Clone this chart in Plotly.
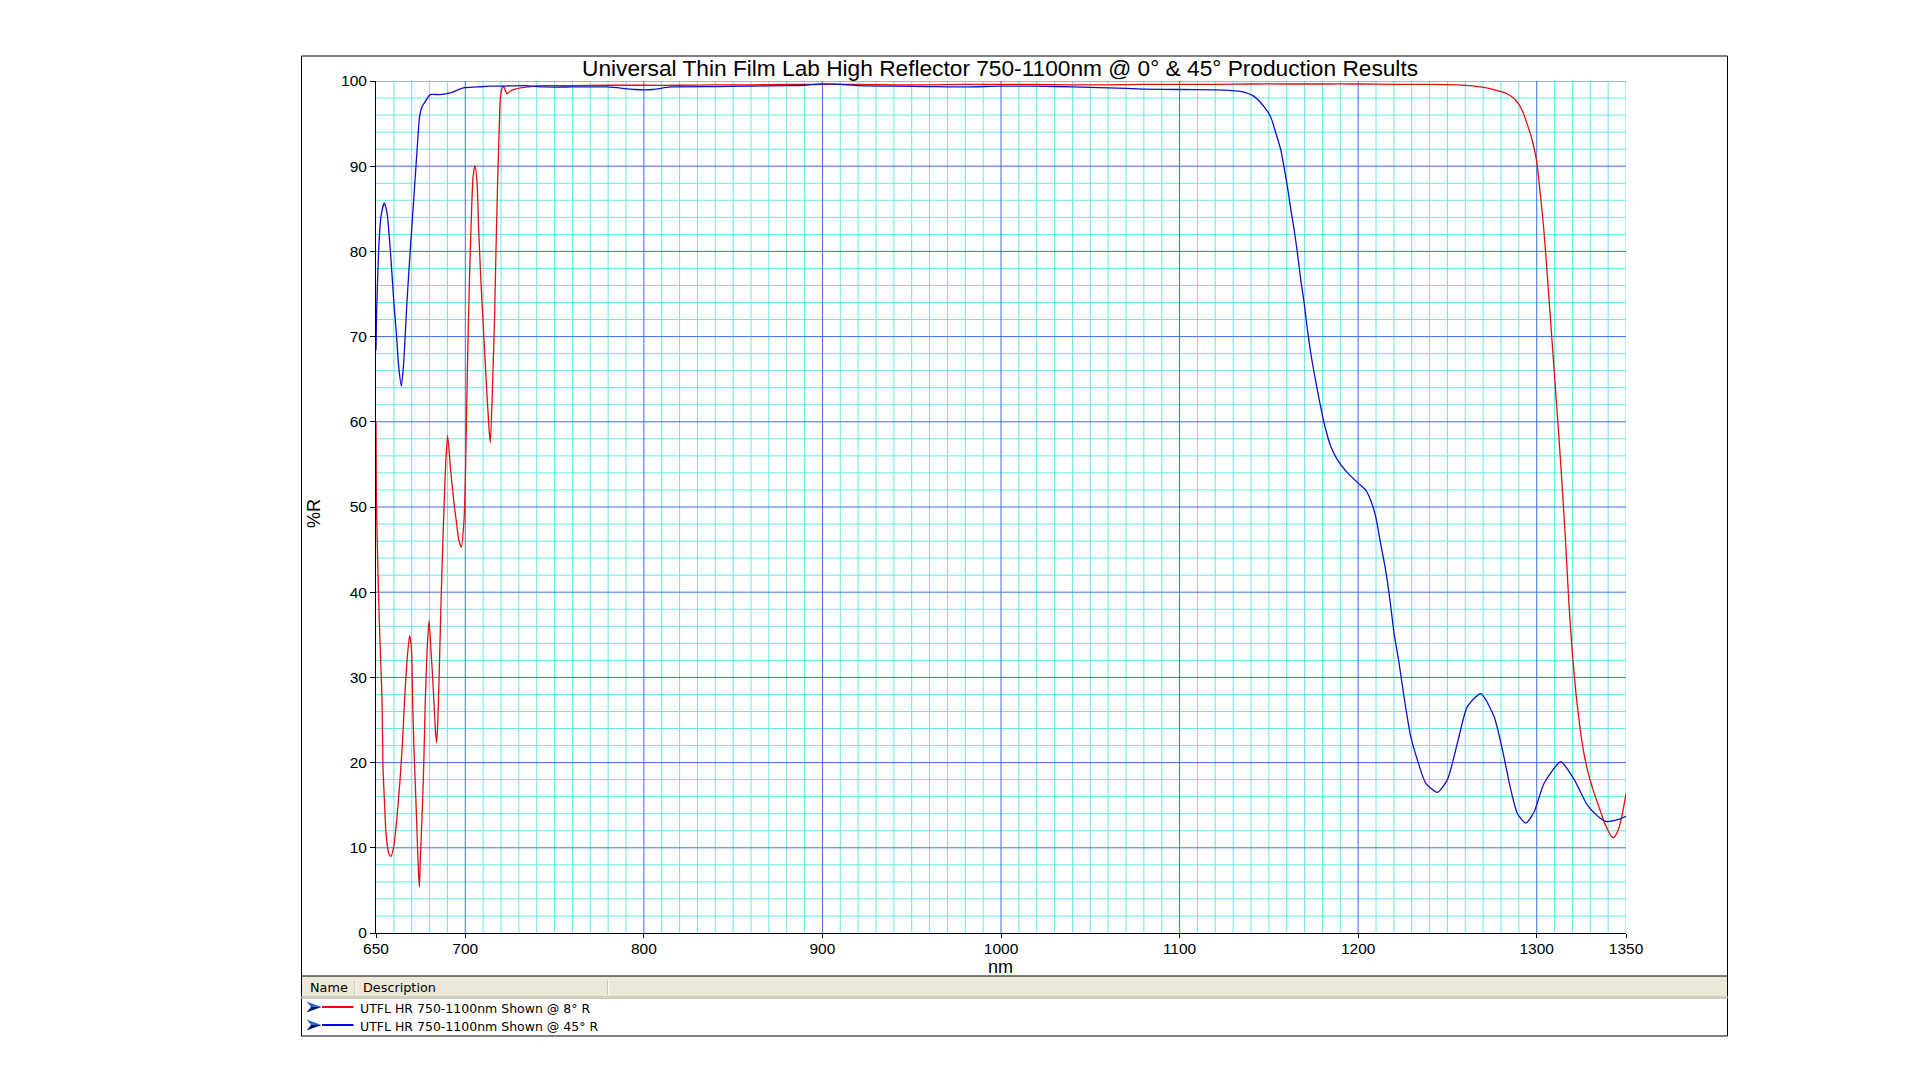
import plotly.graph_objects as go

# ---------------- data ----------------
red_nm = [650, 650.2, 651.5, 652.4, 653.4, 653.9, 654.7, 655.6, 657.1, 658.4, 659.9, 661.8, 663.6,
          664.9, 666, 667.4, 668.8, 669.8, 670.5, 671.3, 672, 673, 673.9, 674.3, 674.8, 675.8,
          676.7, 677.6, 678.6, 679.7, 680.8, 681.7, 682.7, 683.4, 684, 684.7, 685.5, 686.2, 687,
          687.9, 689, 690.1, 691.8, 693.6, 695.1, 696.4, 697.8, 699.3, 700.0, 700.6, 701.3, 702.3,
          703.4, 704.3, 705.4, 706.6, 707.5, 708.8, 710.3, 711.8, 713.1, 714, 715.3, 716.4, 717.2,
          718.1, 718.8, 719.5, 720.3, 721.5, 722.5, 723.4, 725, 727, 733, 742, 760, 780, 800, 820,
          840, 860, 880, 900, 920, 940, 960, 980, 1000, 1020, 1040, 1060, 1080, 1100, 1120, 1140,
          1160, 1180, 1200, 1220, 1240, 1255, 1262, 1268.6, 1276, 1283.4, 1288, 1291.8, 1294.6,
          1297.4, 1299.8, 1302, 1304, 1306, 1308, 1310, 1312, 1314, 1316, 1318, 1320, 1322, 1324,
          1326, 1328, 1330, 1332, 1334, 1336, 1338, 1340, 1342, 1343, 1344, 1346, 1348, 1350]
red_R = [60.0, 50.8, 39.0, 33.2, 27.3, 19.5, 15.6, 11.7, 9.4, 9.0, 10.1, 13.7, 18.4,
         22.7, 27.3, 32.0, 34.9, 33.6, 27.3, 21.4, 17.5, 11.7, 6.6, 5.4, 8.6, 13.7,
         19.5, 27.3, 33.2, 36.7, 33.2, 30.0, 26.1, 23.4, 22.3, 25.4, 31.3, 37.1, 43.0,
         48.8, 55.0, 58.4, 54.3, 50.6, 48.1, 46.1, 45.3, 48.5, 53.0, 59.5, 67.5, 76.3,
         84.1, 88.6, 90.1, 88.0, 82.5, 76.3, 70.4, 64.5, 59.8, 57.5, 64.5, 72.3, 80.2,
         88.0, 93.0, 97.5, 99.0, 99.4, 98.8, 98.5, 98.8, 99.0, 99.25, 99.45, 99.45, 99.5, 99.5, 99.5,
         99.55, 99.55, 99.6, 99.6, 99.6, 99.55, 99.55, 99.6, 99.6, 99.6, 99.55, 99.55, 99.6, 99.6, 99.6, 99.65,
         99.65, 99.65, 99.65, 99.6, 99.6, 99.55, 99.45, 99.3, 99.0, 98.5, 97.8, 96.6, 95.0,
         93.1, 90.8, 86.8, 82.5, 77.0, 71.2, 65.3, 59.5, 53.3, 46.5, 38.8, 32.7, 28.1, 24.5,
         21.6, 19.5, 17.9, 16.5, 15.3, 14.1, 12.9, 12.0, 11.3, 11.2, 11.4, 12.3, 14.0, 16.4]

blue_nm = [650, 650.3, 651.5, 652.8, 654.6, 656.2, 658, 659.9, 661.4, 662.7, 664.2, 665.5, 667.4,
           669.2, 671.1, 673, 674.4, 675.8, 677.6, 680.4, 686, 691.6, 695.3, 699, 706.6, 714, 721,
           733, 744, 760, 780, 795, 805, 815, 840, 860, 880, 890, 900, 910, 920, 940, 960, 980,
           1000, 1020, 1040, 1060, 1080, 1100, 1120, 1128, 1136, 1141.7, 1147.3, 1151, 1153.9,
           1156.7, 1158.5, 1160.4, 1162.3, 1164.2, 1166, 1167.9, 1169.8, 1171.6, 1173.5, 1175.4,
           1178.2, 1181, 1184.7, 1188.5, 1194.1, 1200, 1204.2, 1207, 1209.8, 1212.6, 1215.4,
           1217.8, 1220.1, 1222.9, 1225.7, 1229.4, 1233.2, 1237.8, 1244.4, 1250, 1255.6, 1261.2,
           1268.7, 1276.1, 1280.8, 1285.5, 1289.2, 1293.9, 1298.5, 1304.2, 1313.5, 1321, 1328.4,
           1334.2, 1338.8, 1345.4, 1350]
blue_R = [68.4, 72.5, 80.2, 84.1, 85.7, 84.5, 80.2, 74.3, 70.4, 66.5, 64.2, 66.9, 74.3,
          80.2, 86.0, 91.9, 95.8, 97.0, 97.6, 98.4, 98.4, 98.6, 98.9, 99.2, 99.3, 99.4, 99.4,
          99.45, 99.3, 99.3, 99.3, 99.0, 99.0, 99.3, 99.35, 99.4, 99.45, 99.5, 99.65, 99.6, 99.45,
          99.4, 99.35, 99.3, 99.4, 99.4, 99.3, 99.2, 99.05, 99.0, 98.95, 98.9, 98.7, 98.2, 97.0,
          95.8, 93.9, 91.9, 89.9, 87.6, 84.9, 82.5, 79.8, 76.6, 73.9, 70.8, 68.0, 65.7,
          62.6, 59.8, 57.1, 55.5, 54.0, 52.8, 52.0, 50.8, 48.9, 45.7, 42.6,
          39.1, 35.2, 31.7, 27.7, 23.1, 20.3, 17.6, 16.5, 18.0, 22.3, 26.6,
          28.1, 25.4, 21.5, 16.8, 14.0, 12.9, 14.2, 17.6, 20.1, 18.0, 15.0,
          13.7, 13.1, 13.3, 13.7]

x_tick_vals = [650, 700, 800, 900, 1000, 1100, 1200, 1300, 1350]
y_tick_vals = [0, 10, 20, 30, 40, 50, 60, 70, 80, 90, 100]

title_text = "Universal Thin Film Lab High Reflector 750-1100nm @ 0° & 45° Production Results"
series_names = ["UTFL HR 750-1100nm Shown @ 8° R", "UTFL HR 750-1100nm Shown @ 45° R"]
series_colors = ["#E01010", "#1010C8"]

# ---------------- layout geometry (pixels) ----------------
W, H = 1928, 1085
L, R_, T, B = 376, 302, 81, 152
PW, PH = W - L - R_, H - T - B


def px(x):
    return (x - L) / PW


def py(y):
    return (H - B - y) / PH


FONT = "Liberation Sans, Arial, sans-serif"
LFONT = "DejaVu Sans, Tahoma, sans-serif"
CYAN = "#66E8E8"
BLUE = "#3C6EE6"

fig = go.Figure()
fig.add_trace(go.Scatter(x=red_nm, y=red_R, mode="lines", name=series_names[0],
                         line=dict(color=series_colors[0], width=1.3, shape="spline", smoothing=0.6)))
fig.add_trace(go.Scatter(x=blue_nm, y=blue_R, mode="lines", name=series_names[1],
                         line=dict(color=series_colors[1], width=1.3, shape="spline", smoothing=0.6)))

shapes = []
# minor grid (cyan)
for xv in range(660, 1351, 10):
    if xv % 100 != 0:
        shapes.append(dict(type="line", xref="x", yref="paper", x0=xv, x1=xv, y0=0, y1=1,
                           line=dict(color=CYAN, width=1), layer="below"))
for yv in range(2, 100, 2):
    if yv % 10 != 0:
        shapes.append(dict(type="line", xref="paper", yref="y", x0=0, x1=1, y0=yv, y1=yv,
                           line=dict(color=CYAN, width=1), layer="below"))
# major grid (blue)
for xv in range(700, 1301, 100):
    shapes.append(dict(type="line", xref="x", yref="paper", x0=xv, x1=xv, y0=0, y1=1,
                       line=dict(color=BLUE, width=1), layer="below"))
for yv in range(10, 101, 10):
    shapes.append(dict(type="line", xref="paper", yref="y", x0=0, x1=1, y0=yv, y1=yv,
                       line=dict(color=BLUE, width=1), layer="below"))

# outer frame
box_l, box_r, box_t, box_b = 301.5, 1727.5, 56, 1036
shapes.append(dict(type="rect", xref="paper", yref="paper", x0=px(box_l), x1=px(box_r),
                   y0=py(box_b), y1=py(box_t), line=dict(color="black", width=1), layer="above"))
# legend header band
hdr_t, hdr_b = 976, 999
shapes.append(dict(type="rect", xref="paper", yref="paper", x0=px(box_l + 0.5), x1=px(box_r - 0.5),
                   y0=py(hdr_b), y1=py(hdr_t), fillcolor="#ECE9D8", line=dict(width=0), layer="above"))
shapes.append(dict(type="line", xref="paper", yref="paper", x0=px(box_l), x1=px(box_r),
                   y0=py(hdr_b - 1.5), y1=py(hdr_b - 1.5), line=dict(color="#D2CEBE", width=3), layer="above"))
shapes.append(dict(type="line", xref="paper", yref="paper", x0=px(box_l), x1=px(box_r),
                   y0=py(hdr_t), y1=py(hdr_t), line=dict(color="black", width=1), layer="above"))
for sx in (355, 607.7):
    shapes.append(dict(type="line", xref="paper", yref="paper", x0=px(sx), x1=px(sx),
                       y0=py(hdr_b - 4), y1=py(hdr_t + 4), line=dict(color="#C7C3B3", width=1), layer="above"))
    shapes.append(dict(type="line", xref="paper", yref="paper", x0=px(sx + 1), x1=px(sx + 1),
                       y0=py(hdr_b - 4), y1=py(hdr_t + 4), line=dict(color="#FFFFFF", width=1), layer="above"))

annotations = []
# legend rows
row_y = [1007, 1025]
for i, (name, col) in enumerate(zip(series_names, series_colors)):
    yc = row_y[i]
    ax0 = 306.5
    up = f"M {px(ax0)} {py(yc - 5.5)} L {px(ax0 + 15)} {py(yc)} L {px(ax0 + 4.5)} {py(yc)} Z"
    dn = f"M {px(ax0 + 4.5)} {py(yc)} L {px(ax0 + 15)} {py(yc)} L {px(ax0)} {py(yc + 5.5)} Z"
    shapes.append(dict(type="path", xref="paper", yref="paper", path=up,
                       fillcolor="#2F63D8", line=dict(width=0), layer="above"))
    shapes.append(dict(type="path", xref="paper", yref="paper", path=dn,
                       fillcolor="#0B1660", line=dict(width=0), layer="above"))
    shapes.append(dict(type="line", xref="paper", yref="paper", x0=px(322), x1=px(353.5),
                       y0=py(yc), y1=py(yc), line=dict(color="#FF0000" if i == 0 else "#0000FF", width=2),
                       layer="above"))
    annotations.append(dict(text=name, xref="paper", yref="paper", x=px(358), y=py(yc + 1.8),
                            xanchor="left", yanchor="middle", showarrow=False,
                            font=dict(family=LFONT, size=12.5, color="black")))

annotations.append(dict(text="Name", xref="paper", yref="paper", x=px(307.5), y=py(987.5),
                        xanchor="left", yanchor="middle", showarrow=False,
                        font=dict(family=LFONT, size=12.8, color="black")))
annotations.append(dict(text="Description", xref="paper", yref="paper", x=px(361), y=py(987.5),
                        xanchor="left", yanchor="middle", showarrow=False,
                        font=dict(family=LFONT, size=12.8, color="black")))
# title and axis titles
annotations.append(dict(text=title_text, xref="paper", yref="paper", x=px(1000), y=py(68),
                        xanchor="center", yanchor="middle", showarrow=False,
                        font=dict(family=FONT, size=22.7, color="black")))
annotations.append(dict(text="nm", xref="paper", yref="paper", x=px(1000), y=py(967),
                        xanchor="center", yanchor="middle", showarrow=False,
                        font=dict(family=FONT, size=18, color="black")))
annotations.append(dict(text="%R", xref="paper", yref="paper", x=px(314), y=py(514),
                        xanchor="center", yanchor="middle", showarrow=False, textangle=-90,
                        font=dict(family=FONT, size=18, color="black")))

fig.update_layout(
    width=W, height=H,
    margin=dict(l=L, r=R_, t=T, b=B, pad=0),
    paper_bgcolor="white", plot_bgcolor="white",
    showlegend=False,
    shapes=shapes,
    annotations=annotations,
    xaxis=dict(range=[650, 1350], tickmode="array", tickvals=x_tick_vals,
               ticktext=[str(v) for v in x_tick_vals], showgrid=False, zeroline=False,
               showline=True, linecolor="black", linewidth=1, ticks="outside", ticklen=4,
               tickcolor="black", ticklabelstandoff=-3,
               tickfont=dict(family=FONT, size=15.5, color="black")),
    yaxis=dict(range=[0, 100], tickmode="array", tickvals=y_tick_vals,
               ticktext=[str(v) for v in y_tick_vals], showgrid=False, zeroline=False,
               showline=True, linecolor="black", linewidth=1, ticks="outside", ticklen=5,
               tickcolor="black", tickfont=dict(family=FONT, size=15.5, color="black")),
)

fig.write_html("out.html")
